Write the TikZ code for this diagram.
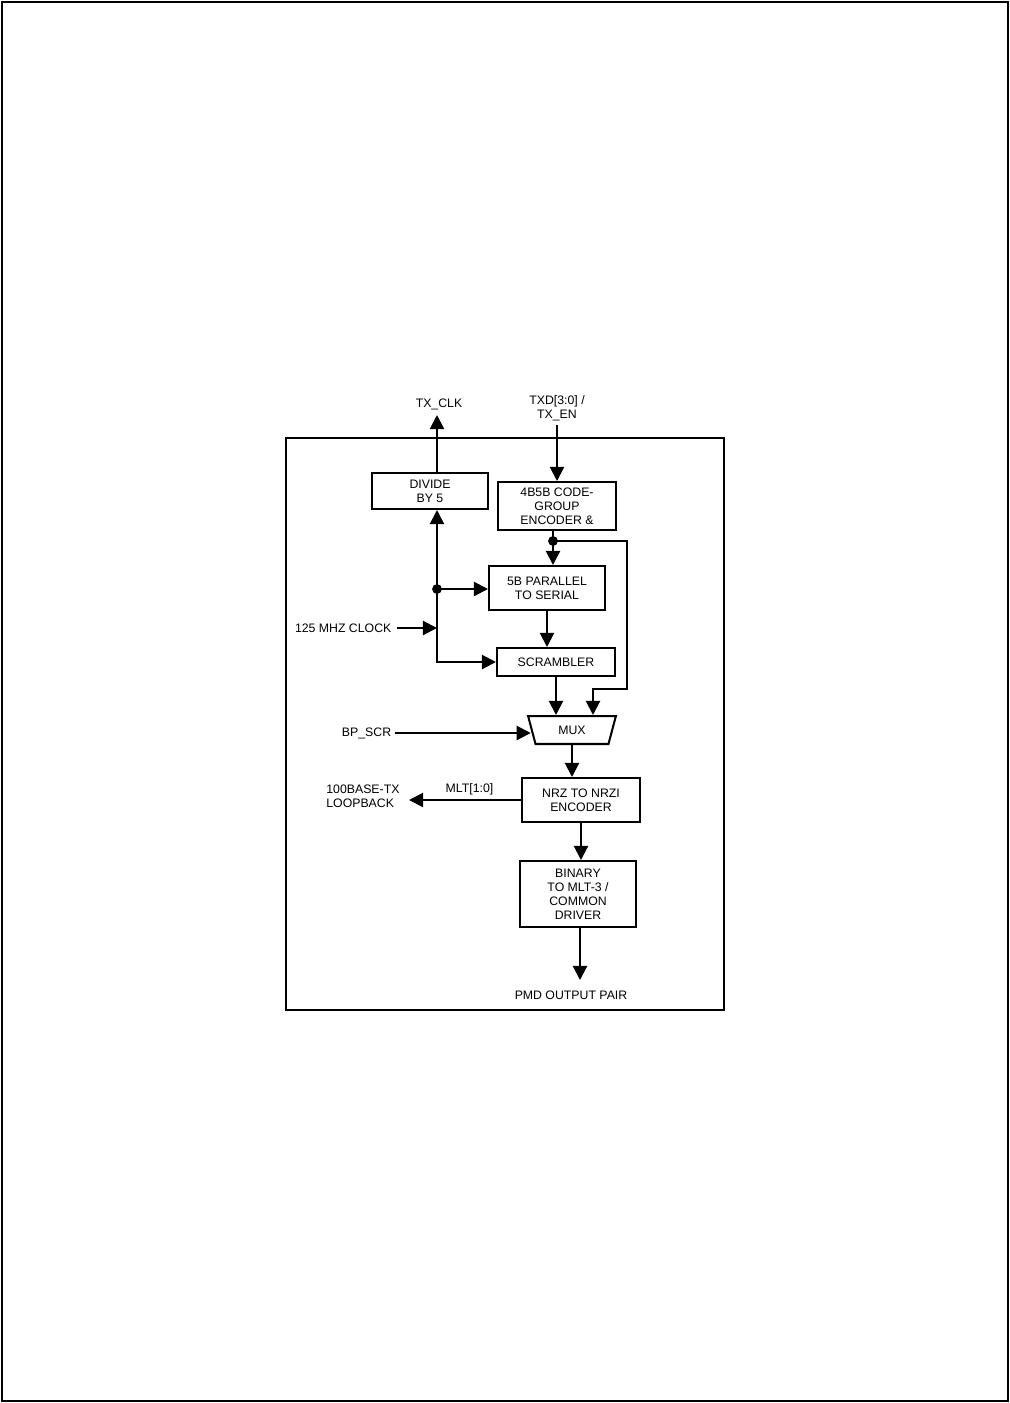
\documentclass[tikz,border=0pt]{standalone}
\usepackage{fontspec}
\setmainfont{Liberation Sans}
\usetikzlibrary{arrows.meta,positioning,shapes.geometric}
\tikzset{
  blk/.style={draw,line width=1.15pt,align=center,inner sep=0pt},
  lbl/.style={inner sep=0pt,align=center},
  arr/.style={line width=1.15pt,-{Triangle[length=8pt,width=8pt]}}
}

\begin{document}
\begin{tikzpicture}[x=0.02cm,y=-0.02cm,font=\fontsize{7}{8}\selectfont]
\useasboundingbox (0,0) rectangle (1009,1403);
\draw[line width=1.15pt] (2,2) rectangle (1008,1401);
\draw[line width=1.15pt] (286,438) rectangle (724,1010);
% blocks
\node[blk,minimum width=2.32cm,minimum height=0.72cm] (div) at (430,491) {DIVIDE\\BY 5};
\node[blk,minimum width=2.36cm,minimum height=0.96cm] (enc) at (557,506) {4B5B CODE-\\GROUP\\ENCODER \&};
\node[blk,minimum width=2.32cm,minimum height=0.88cm] (p2s) at (547,588) {5B PARALLEL\\TO SERIAL};
\node[blk,minimum width=2.36cm,minimum height=0.56cm] (scr) at (556,662) {SCRAMBLER};
\node[blk,trapezium,trapezium angle=72,shape border rotate=180,trapezium stretches=true,
  minimum width=1.76cm,minimum height=0.56cm] (mux) at (572,730) {MUX};
\node[blk,minimum width=2.36cm,minimum height=0.88cm] (nrz) at (581,800) {NRZ TO NRZI\\ENCODER};
\node[blk,minimum width=2.32cm,minimum height=1.32cm] (bin) at (578,894) {BINARY\\TO MLT-3 /\\COMMON\\DRIVER};
% labels
\node[lbl,anchor=base] (txclk) at (439,407) {TX\_CLK};
\node[lbl] (txd) at (557,408) {TXD[3:0] /\\TX\_EN};
\node[lbl,anchor=east,inner xsep=3pt] (clk) at (397,628) {125 MHZ CLOCK};
\node[lbl,anchor=east,inner xsep=2pt] (bp) at (395,733) {BP\_SCR};
\node[lbl,anchor=west,align=left] (lb) at (326,796.5) {100BASE-TX\\LOOPBACK};
\node[lbl,anchor=base] (pmd) at (571,999) {PMD OUTPUT PAIR};
% points
\coordinate (clkout) at (437,415);
\coordinate (txdin) at (557,425);
\coordinate (tap) at (437,589);
\coordinate (split) at (553,541);
\coordinate (byp) at (627,689);
\coordinate (muxb) at (593,689);
\coordinate (lbend) at (409,800);
\coordinate (pmdend) at (580,980);
% connections
\draw[arr] (clkout |- div.north) -- (clkout);
\draw[arr] (txdin) -- (enc.north);
\draw[arr] (clk.east) -- (clk.east -| tap);
\draw[arr] (tap) -- (tap |- div.south);
\draw[arr] (tap) |- (scr.west);
\draw[arr] (tap) -- (tap -| p2s.west);
\fill (tap) circle[radius=2.8pt];
\draw[arr] (split |- enc.south) -- (split |- p2s.north);
\draw[arr] (split) -| (byp) -| (muxb |- mux.north);
\fill (split) circle[radius=2.8pt];
\draw[arr] (p2s.south) -- (p2s.south |- scr.north);
\draw[arr] (scr.south) -- (scr.south |- mux.north);
\draw[arr] (bp.east) -- (bp.east -| mux.west);
\draw[arr] (mux.south) -- (mux.south |- nrz.north);
\draw[arr] (nrz.west) -- node[lbl,above=2pt,pos=0.46]{MLT[1:0]} (nrz.west -| lbend);
\draw[arr] (nrz.south) -- (nrz.south |- bin.north);
\draw[arr] (pmdend |- bin.south) -- (pmdend);
\end{tikzpicture}
\end{document}
